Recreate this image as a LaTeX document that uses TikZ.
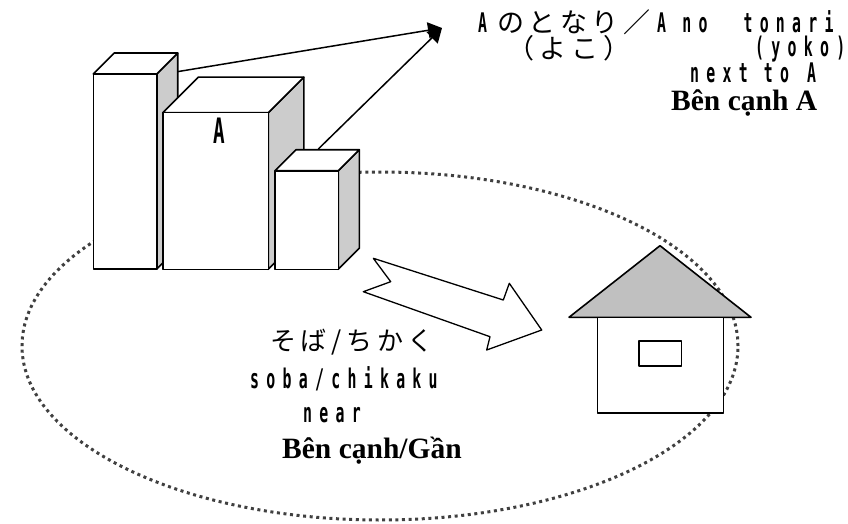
\documentclass[tikz,border=0pt]{standalone}
\usepackage{fontspec}
\setmainfont{Liberation Serif}
\newfontfamily\jpfont{Noto Sans CJK JP}[LetterSpace=18]
\newfontfamily\romfont{DejaVu Sans Mono}[FakeStretch=0.55,LetterSpace=27]
\usetikzlibrary{arrows.meta}

\definecolor{sidegray}{HTML}{CCCCCC}
\definecolor{roofgray}{HTML}{C0C0C0}
\definecolor{dotgray}{HTML}{404040}

\newcommand{\jp}[1]{{\mdseries\jpfont #1}}

\tikzset{
  rom/.style={font=\romfont\bfseries\fontsize{27}{29}\selectfont, inner sep=0pt},
  jptext/.style={font=\jpfont\fontsize{27}{29}\selectfont, inner sep=0pt},
  viet/.style={font=\bfseries\fontsize{29.5}{31}\selectfont, inner sep=0pt},
  block/.style={draw, line width=1.6pt, fill=white, line join=round},
  side/.style={block, fill=sidegray},
  dots/.style={draw=dotgray, line width=3pt, dash pattern=on 3pt off 3.6pt},
}

\begin{document}
\begin{tikzpicture}[x=1pt,y=-1pt,>={Triangle[length=14pt,width=16pt]}]
    \useasboundingbox (0,0) rectangle (848,524);
    % dotted area round the buildings and the house
    \draw[dots] (380,346) ellipse [x radius=358pt, y radius=174pt];
    % buildings: left/top/right/bottom/depth
    \foreach \l/\t/\r/\b/\d in {93.3/74/156.7/269/21,162.7/112.7/268.3/269.3/35.5,275/170.7/338.3/269.3/21}
    {
        \draw[side] (\r,\t)--(\r+\d,\t-\d)--(\r+\d,\b-\d)--(\r,\b)--cycle;
        \draw[block] (\l,\t)--(\l+\d,\t-\d)--(\r+\d,\t-\d)--(\r,\t)--cycle;
        \draw[block] (\l,\t) rectangle (\r,\b);
    }
    \node[rom, font=\romfont\bfseries\fontsize{35}{35}\selectfont] (labelA) at (219,131) {A};
    % arrows up to the label
    \coordinate (tip) at (442,28);
    \coordinate (b1) at (177.3,71.7);
    \coordinate (b3) at (318.3,149);
    \draw[line width=1.5pt,->] (b1)--(tip);
    \draw[line width=1.5pt,->] (b3)--(tip);
    % block arrow
    \draw[block, line width=1.3pt] (373.3,258.3)--(503.3,300)--(509.3,283.3)--(541.7,330)
        --(486.7,350)--(490,336.7)--(363.3,291.7)--(390.7,281.7)--cycle;
    % house
    \draw[block, fill=roofgray] (569,317.3)--(660,245.7)--(751,317.3)--cycle;
    \draw[block] (597.3,317.3) rectangle (723.3,413);
    \draw[block] (639,341) rectangle (681.3,365.7);
    % labels, top right
    \node[rom, anchor=base west] (tonarijp) at (478,33) {A\hspace{10pt}\jp{のとなり／}};
    \node[rom, anchor=base west] (tonari) at (657,33) {A no\hspace{36pt}tonari};
    \node[jptext, anchor=base] (yokojp) at (569,59) {（よこ）};
    \node[rom, anchor=base west] (yoko) at (755,57) {(yoko)};
    \node[rom, anchor=base west] (nextto) at (690,83) {next\hspace{16pt}to\hspace{18pt}A};
    \node[viet, anchor=base west] (bencanhA) at (671,111) {Bên cạnh A};
    % labels, lower middle
    \node[jptext, font=\jpfont\fontsize{26}{28}\selectfont] (soba) at (352,342) {そば/ちかく};
    \node[rom, anchor=base west] (sobarom) at (250,388) {soba/chikaku};
    \node[rom, anchor=base west] (near) at (303,422) {near};
    \node[viet, anchor=base west] (gan) at (282,458) {Bên cạnh/Gần};
\end{tikzpicture}
\end{document}
